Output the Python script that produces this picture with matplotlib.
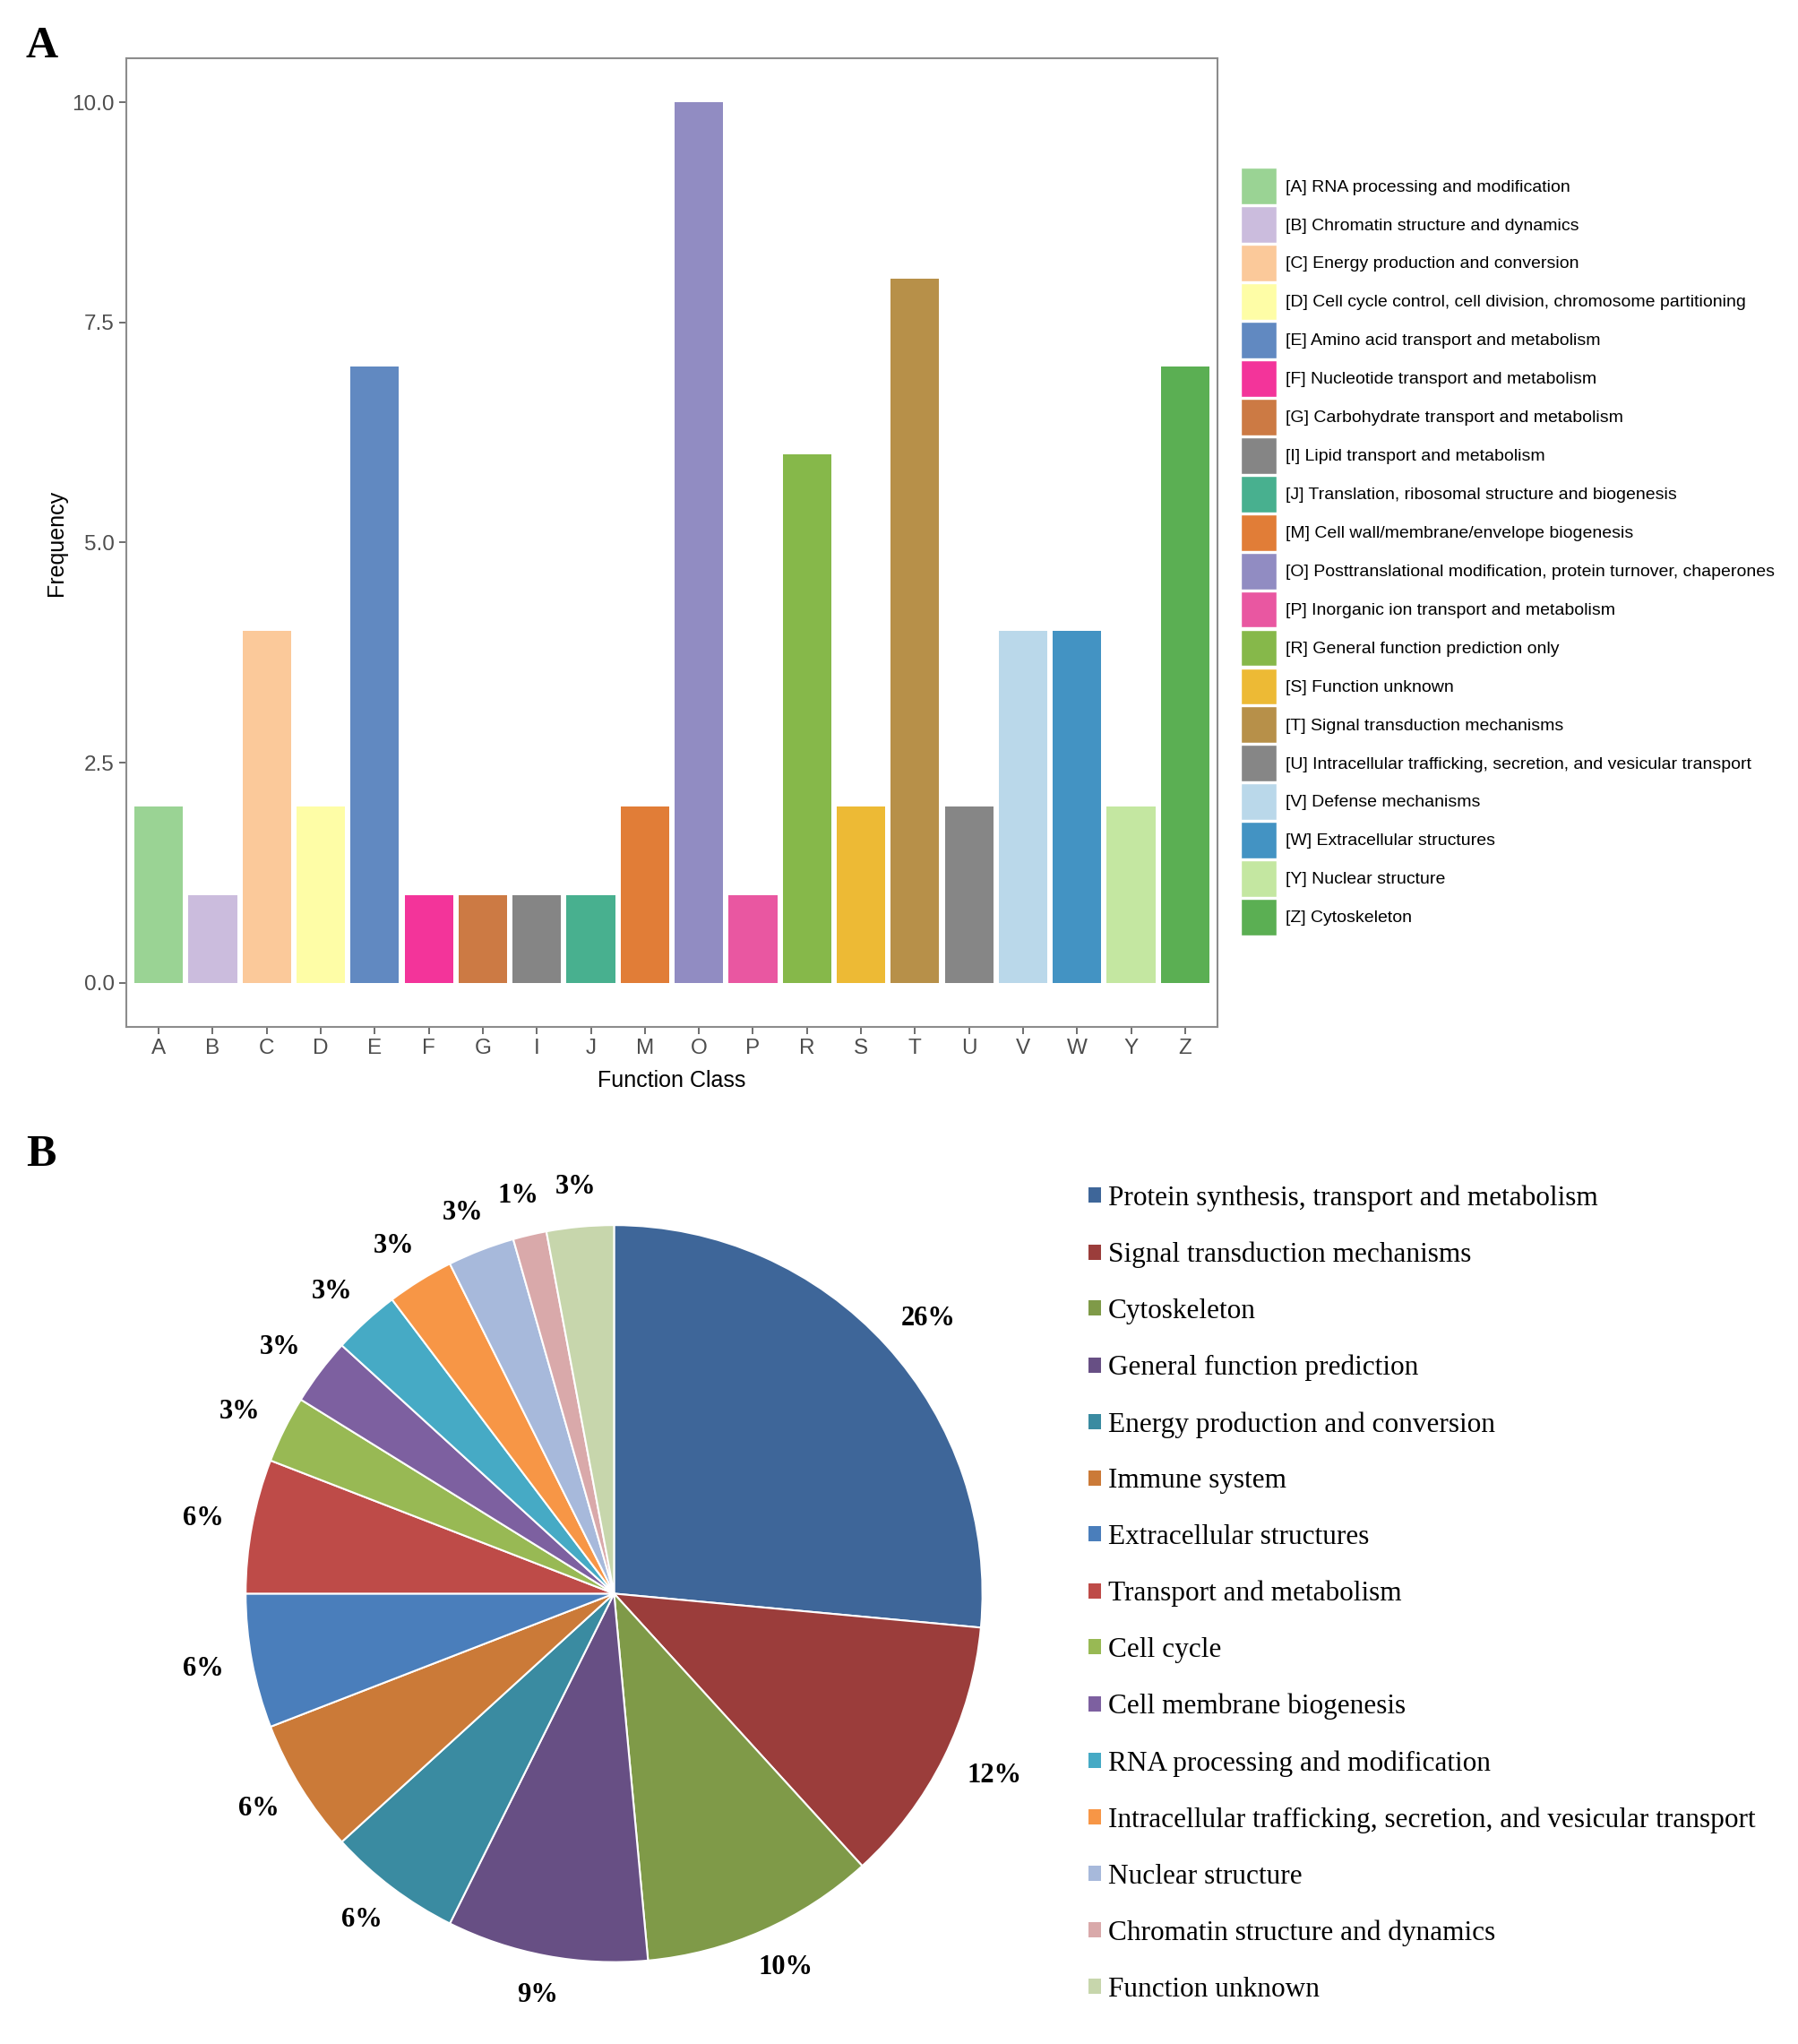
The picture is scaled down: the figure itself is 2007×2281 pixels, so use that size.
import math
import matplotlib
matplotlib.use("Agg")
import matplotlib.pyplot as plt
from matplotlib.patches import Patch

# Panel A data: COG function classes
classes = ['A', 'B', 'C', 'D', 'E', 'F', 'G', 'I', 'J', 'M',
           'O', 'P', 'R', 'S', 'T', 'U', 'V', 'W', 'Y', 'Z']
freq = [2, 1, 4, 2, 7, 1, 1, 1, 1, 2, 10, 1, 6, 2, 8, 2, 4, 4, 2, 7]
class_names = [
    'RNA processing and modification',
    'Chromatin structure and dynamics',
    'Energy production and conversion',
    'Cell cycle control, cell division, chromosome partitioning',
    'Amino acid transport and metabolism',
    'Nucleotide transport and metabolism',
    'Carbohydrate transport and metabolism',
    'Lipid transport and metabolism',
    'Translation, ribosomal structure and biogenesis',
    'Cell wall/membrane/envelope biogenesis',
    'Posttranslational modification, protein turnover, chaperones',
    'Inorganic ion transport and metabolism',
    'General function prediction only',
    'Function unknown',
    'Signal transduction mechanisms',
    'Intracellular trafficking, secretion, and vesicular transport',
    'Defense mechanisms',
    'Extracellular structures',
    'Nuclear structure',
    'Cytoskeleton',
]
bar_colors = ['#9AD394', '#CBBCDD', '#FBC99A', '#FEFDA6', '#6189C1',
              '#F3349A', '#CC7A44', '#858585', '#48B08F', '#E17D37',
              '#918CC2', '#E957A1', '#86B84A', '#EDBA35', '#B79049',
              '#868686', '#BAD8EA', '#4393C3', '#C4E7A1', '#5BAF53']

# Panel B data: grouped categories (counts)
groups = [
    'Protein synthesis, transport and metabolism',
    'Signal transduction mechanisms',
    'Cytoskeleton',
    'General function prediction',
    'Energy production and conversion',
    'Immune system',
    'Extracellular structures',
    'Transport and metabolism',
    'Cell cycle',
    'Cell membrane biogenesis',
    'RNA processing and modification',
    'Intracellular trafficking, secretion, and vesicular transport',
    'Nuclear structure',
    'Chromatin structure and dynamics',
    'Function unknown',
]
group_counts = [18, 8, 7, 6, 4, 4, 4, 4, 2, 2, 2, 2, 2, 1, 2]
pie_colors = ['#3E6699', '#9B3D3B', '#7F9A48', '#674F84', '#3A8BA1',
              '#CB7A38', '#4A7EBB', '#BE4B48', '#98B954', '#7D60A0',
              '#46AAC5', '#F79646', '#A7B9DB', '#D9A9AA', '#C7D6AC']

sans = 'Liberation Sans'
serif = 'Liberation Serif'

fig = plt.figure(figsize=(20.08, 22.81), dpi=100)

# ---------- Panel A ----------
ax = fig.add_axes([0.0702, 0.4976, 0.6066, 0.4739])
x = list(range(len(classes)))
ax.bar(x, freq, width=0.9, color=bar_colors)
ax.set_xlim(-0.6, len(classes) - 0.4)
ax.set_ylim(-0.5, 10.5)
ax.set_xticks(x)
ax.set_xticklabels(classes)
ax.set_yticks([0, 2.5, 5, 7.5, 10])
ax.set_yticklabels(['0.0', '2.5', '5.0', '7.5', '10.0'])
for lab in ax.get_xticklabels() + ax.get_yticklabels():
    lab.set_fontfamily(sans)
    lab.set_fontsize(17.5)
    lab.set_color('#4D4D4D')
ax.tick_params(color='#555555', length=6, width=1.2)
for sp in ax.spines.values():
    sp.set_color('#8C8C8C')
    sp.set_linewidth(1.5)
ax.set_xlabel('Function Class', fontfamily=sans, fontsize=18, labelpad=9)
ax.set_ylabel('Frequency', fontfamily=sans, fontsize=18, labelpad=4)

handles = [Patch(facecolor=c, edgecolor='white', linewidth=1) for c in bar_colors]
labels = ['[%s] %s' % (c, n) for c, n in zip(classes, class_names)]
fig.legend(handles, labels, loc='upper left', bbox_to_anchor=(0.6895, 0.9178),
           frameon=False, prop={'family': sans, 'size': 14},
           handlelength=2.1, handleheight=2.85, labelspacing=0.11,
           handletextpad=0.5, borderaxespad=0, borderpad=0)

fig.text(0.023, 0.977, 'A', fontfamily=serif, fontweight='bold', fontsize=36,
         ha='center', va='center')

# ---------- Panel B ----------
axp = fig.add_axes([0.0956, 0.0040, 0.4915, 0.4327])
wedges, texts, autotexts = axp.pie(
    group_counts, colors=pie_colors, startangle=90, counterclock=False,
    radius=1, wedgeprops={'edgecolor': 'white', 'linewidth': 1.5},
    autopct=lambda p: '%.0f%%' % p, pctdistance=1.1,
    textprops={'family': serif, 'weight': 'bold', 'size': 22})
axp.set_xlim(-1.2, 1.2)
axp.set_ylim(-1.2, 1.2)
axp.set_aspect('equal')
axp.axis('off')

# push each percentage label out so its box sits just outside the rim
renderer = fig.canvas.get_renderer()
inv = axp.transData.inverted()
for t in autotexts:
    tx, ty = t.get_position()
    ang = math.atan2(ty, tx)
    bb = t.get_window_extent(renderer=renderer)
    (x0, y0), (x1, y1) = inv.transform([[bb.x0, bb.y0], [bb.x1, bb.y1]])
    hw, hh = (x1 - x0) / 2, (y1 - y0) / 2 * 0.8
    r0 = 1.08
    t.set_position((r0 * math.cos(ang) + hw * math.cos(ang),
                    r0 * math.sin(ang) + hh * math.sin(ang)))

phandles = [Patch(facecolor=c, edgecolor='none') for c in pie_colors]
fig.legend(phandles, groups, loc='upper left', bbox_to_anchor=(0.605, 0.4202),
           frameon=False, prop={'family': serif, 'size': 22.5},
           handlelength=0.46, handleheight=0.46, labelspacing=1.08,
           handletextpad=0.25, borderaxespad=0, borderpad=0)

fig.text(0.023, 0.435, 'B', fontfamily=serif, fontweight='bold', fontsize=36,
         ha='center', va='center')

plt.savefig('out.png', dpi=100)
